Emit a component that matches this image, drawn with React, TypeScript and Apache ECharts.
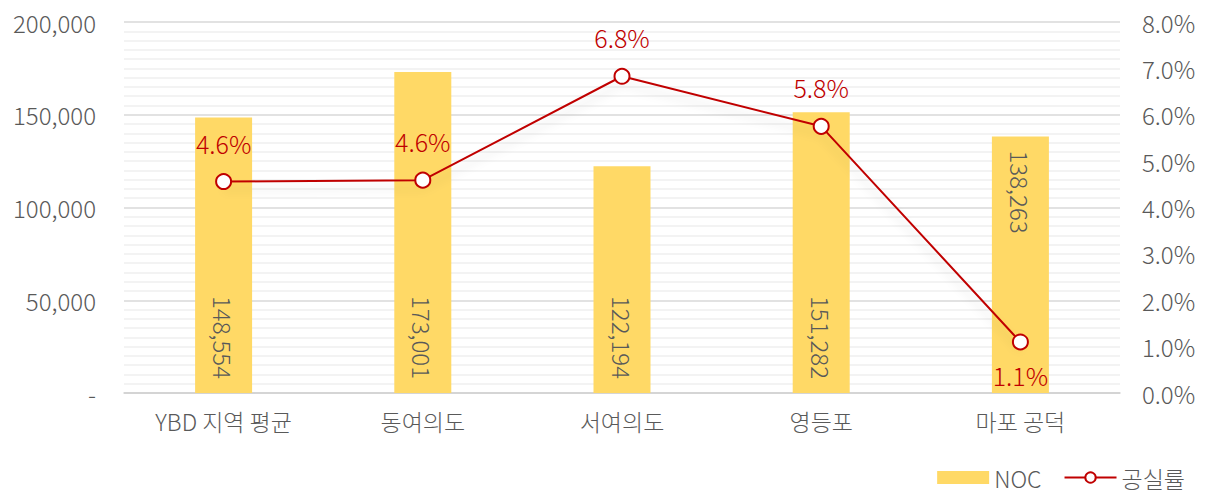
import React, { useEffect, useRef } from "react";
import * as echarts from "echarts";

const categories = ["YBD 지역 평균", "동여의도", "서여의도", "영등포", "마포 공덕"];
const nocValues = [148554, 173001, 122194, 151282, 138263];
const vacancyRates = [4.56, 4.59, 6.83, 5.75, 1.1];
const barLabelPositions = ["insideBottom", "insideBottom", "insideBottom", "insideBottom", "insideTop"];
const lineLabelPositions = ["top", "top", "top", "top", "bottom"];

const FONT = "'Noto Sans CJK KR Light', 'Noto Sans CJK KR', 'Noto Sans', sans-serif";
const GRAY = "#595959";

export default function App() {
  const ref = useRef<HTMLDivElement>(null);
  useEffect(() => {
    document.body.style.margin = "0";
    if (!ref.current) return;
    const chart = echarts.init(ref.current, null, { renderer: "svg" });
    chart.setOption({
      animation: false,
      textStyle: { fontFamily: FONT },
      grid: { left: 124, right: 87, top: 22, bottom: 101 },
      legend: {
        right: 22,
        top: 466,
        padding: 0,
        itemWidth: 52,
        itemHeight: 13,
        itemGap: 22,
        textStyle: { fontFamily: FONT, fontSize: 23, color: GRAY, fontWeight: 300, lineHeight: 22 },
        data: [
          { name: "NOC", icon: "rect" },
          { name: "공실률" },
        ],
      },
      xAxis: {
        type: "category",
        data: categories,
        axisLine: { lineStyle: { color: "#d0d0d0", width: 1.5 } },
        axisTick: { show: false },
        axisLabel: { color: GRAY, fontSize: 23, margin: 16, fontFamily: FONT, fontWeight: 300 },
      },
      yAxis: [
        {
          type: "value",
          min: 0,
          max: 200000,
          interval: 50000,
          axisLine: { show: false },
          axisTick: { show: false },
          splitLine: { lineStyle: { color: "#d9d9d9", width: 1.5 } },
          minorTick: { show: false, splitNumber: 10 },
          minorSplitLine: { show: true, lineStyle: { color: "#efefef", width: 1.5 } },
          axisLabel: {
            color: GRAY,
            fontSize: 24,
            margin: 28,
            fontFamily: FONT,
            fontWeight: 300,
            formatter: (v: number) => (v === 0 ? "-" : v.toLocaleString("en-US")),
          },
        },
        {
          type: "value",
          min: 0,
          max: 8,
          interval: 1,
          position: "right",
          axisLine: { show: false },
          axisTick: { show: false },
          splitLine: { show: false },
          axisLabel: {
            color: GRAY,
            fontSize: 24,
            margin: 22,
            fontFamily: FONT,
            fontWeight: 300,
            formatter: (v: number) => v.toFixed(1) + "%",
          },
        },
      ],
      series: [
        {
          name: "NOC",
          type: "bar",
          barWidth: 57,
          itemStyle: { color: "#FFD966" },
          data: nocValues.map((v, i) => ({
            value: v,
            label: {
              show: true,
              position: barLabelPositions[i],
              rotate: -90,
              distance: 14,
              align: barLabelPositions[i] === "insideTop" ? "left" : "right",
              verticalAlign: "middle",
              color: GRAY,
              fontSize: 24,
              fontFamily: FONT,
              fontWeight: 300,
              formatter: (p: any) => Number(p.value).toLocaleString("en-US"),
            },
          })),
        },
        {
          name: "공실률",
          type: "line",
          yAxisIndex: 1,
          symbol: "circle",
          symbolSize: 15,
          lineStyle: {
            color: "#C00000",
            width: 2,
            shadowColor: "rgba(0,0,0,0.12)",
            shadowBlur: 10,
            shadowOffsetY: 8,
          },
          itemStyle: { color: "#ffffff", borderColor: "#C00000", borderWidth: 2 },
          data: vacancyRates.map((v, i) => ({
            value: v,
            label: {
              show: true,
              position: lineLabelPositions[i],
              distance: lineLabelPositions[i] === "top" ? 18 : 12,
              color: "#C00000",
              fontSize: 25,
              fontFamily: FONT,
              fontWeight: 300,
              formatter: (p: any) => Number(p.value).toFixed(1) + "%",
            },
          })),
        },
      ],
    });
    return () => chart.dispose();
  }, []);
  return <div ref={ref} style={{ width: 1207, height: 494 }} />;
}
